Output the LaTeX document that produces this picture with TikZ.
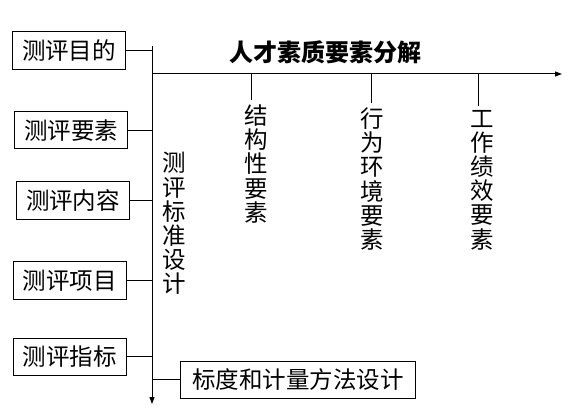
\documentclass[tikz,border=0pt]{standalone}
\usepackage{fontspec}
\newfontfamily\cjk{Noto Sans CJK SC}
\usetikzlibrary{arrows.meta}
\tikzset{
  box/.style={draw, line width=1pt, inner sep=0pt, minimum width=113pt, minimum height=37.5pt, font=\cjk\fontsize{23.5}{24}\selectfont},
  vtext/.style={inner sep=0pt, align=center, font=\cjk\fontsize{23.5}{24.2}\selectfont},
  ln/.style={line width=1pt},
  arr/.style={line width=1pt, -{Triangle[length=7pt,width=5pt]}}
}
\begin{document}
\begin{tikzpicture}[x=1pt,y=-1pt]
\useasboundingbox (0,0) rectangle (576,412);
% boxes
\node[box] (b1) at (69,50.5) {测评目的};
\node[box] (b2) at (71,130.2) {测评要素};
\node[box] (b3) at (73,200.5) {测评内容};
\node[box] (b4) at (70,280.5) {测评项目};
\node[box] (b5) at (70,356.8) {测评指标};
\node[box, minimum width=235.4pt] (b6) at (298,379.8) {标度和计量方法设计};
% axes
\coordinate (vtop) at (152,46);
\coordinate (vbot) at (152,404);
\coordinate (hstart) at (152,74);
\coordinate (hend) at (562,74);
\draw[arr] (vtop) -- (vbot);
\draw[arr] (hstart) -- (hend);
% connectors
\draw[ln] (b1.east) -- (b1.east -| vtop);
\draw[ln] (b2.east) -- (b2.east -| vtop);
\draw[ln] (b3.east) -- (b3.east -| vtop);
\draw[ln] (b4.east) -- (b4.east -| vtop);
\draw[ln] (b5.east) -- (b5.east -| vtop);
\draw[ln] (b6.west) -- (b6.west -| vtop);
% title
\node[font=\cjk\bfseries\fontsize{24}{24}\selectfont, inner sep=0pt] (title) at (325,52) {人才素质要素分解};
% vertical texts
\node[vtext] (v0) at (174,223.5) {测\\评\\标\\准\\设\\计};
\node[vtext] (v1) at (256,164) {结\\构\\性\\要\\素};
\node[vtext] (v2) at (372,179) {行\\为\\环\\境\\要\\素};
\node[vtext] (v3) at (482,180) {工\\作\\绩\\效\\要\\素};
% ticks
\coordinate (t1) at (251,100);
\coordinate (t2) at (371,103);
\coordinate (t3) at (478,106);
\draw[ln] (t1 |- hstart) -- (t1);
\draw[ln] (t2 |- hstart) -- (t2);
\draw[ln] (t3 |- hstart) -- (t3);
\end{tikzpicture}
\end{document}
